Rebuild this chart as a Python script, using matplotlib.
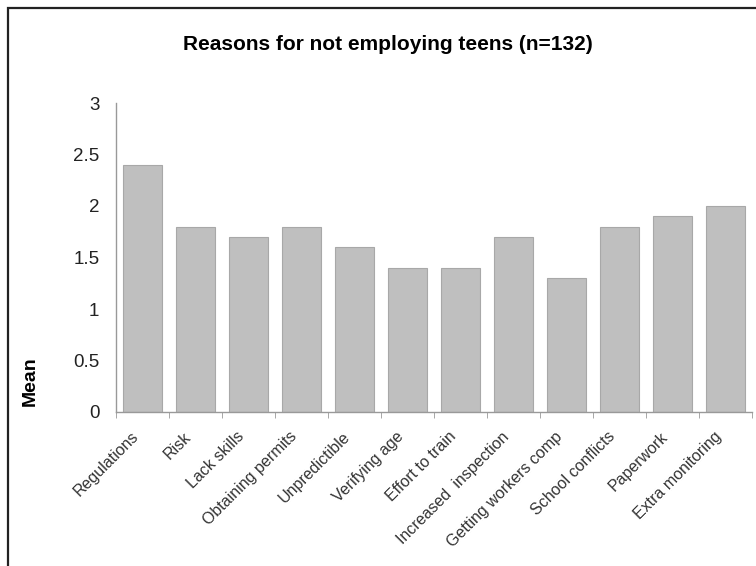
import matplotlib
matplotlib.use("Agg")
from matplotlib import pyplot as plt
from matplotlib.patches import Rectangle
from matplotlib.transforms import ScaledTranslation
import numpy as np

plt.rcParams['font.family'] = ['Liberation Sans', 'DejaVu Sans']

# Chart data
reasons = ['Regulations', 'Risk', 'Lack skills', 'Obtaining permits', 'Unpredictible',
           'Verifying age', 'Effort to train', 'Increased  inspection',
           'Getting workers comp', 'School conflicts', 'Paperwork', 'Extra monitoring']
means = [2.4, 1.8, 1.7, 1.8, 1.6, 1.4, 1.4, 1.7, 1.3, 1.8, 1.9, 2.0]
yticks = [0, 0.5, 1, 1.5, 2, 2.5, 3]
ytick_labels = ['0', '0.5', '1', '1.5', '2', '2.5', '3']

fig = plt.figure(figsize=(7.56, 5.66), dpi=100)
fig.patch.set_facecolor('white')

# outer frame (only left and top edges fall inside the picture)
frame = Rectangle((8 / 756, -0.1), 1.2, 1.1 - 8 / 566, transform=fig.transFigure,
                  fill=False, edgecolor='#222222', linewidth=1.6, clip_on=False)
fig.patches.append(frame)

ax = fig.add_axes([116 / 756, 1 - 412 / 566, 636 / 756, 309 / 566])
x = np.arange(len(reasons))
ax.bar(x, means, width=0.75, color='#bfbfbf', edgecolor='#a8a8a8', linewidth=0.8)

ax.set_xlim(-0.5, len(reasons) - 0.5)
ax.set_ylim(0, 3)
ax.set_yticks(yticks)
ax.set_yticklabels(ytick_labels, fontsize=13.5, color='#222222')

# category labels at bar centres, tick marks between categories
ax.set_xticks(x)
ax.set_xticklabels(reasons, rotation=45, ha='right', rotation_mode='anchor',
                   fontsize=11.5, color='#333333')
ax.set_xticks(np.arange(-0.5, len(reasons)), minor=True)
ax.tick_params(axis='x', which='major', length=0, pad=8)
ax.tick_params(axis='x', which='minor', length=4, color='#999999')
ax.tick_params(axis='y', length=0, pad=12)

# nudge the rotated labels down-left (after tick_params, which resets transforms)
shift = ScaledTranslation(-12 / 100, -6 / 100, fig.dpi_scale_trans)
for lbl in ax.get_xticklabels():
    lbl.set_transform(lbl.get_transform() + shift)

for side in ['top', 'right']:
    ax.spines[side].set_visible(False)
for side in ['left', 'bottom']:
    ax.spines[side].set_color('#999999')
    ax.spines[side].set_linewidth(1.0)

ax.set_ylabel('Mean', fontsize=14, fontweight='bold')
ax.yaxis.set_label_coords(-0.122, 0.10)

fig.text(388 / 756, 1 - 45 / 566, 'Reasons for not employing teens (n=132)',
         ha='center', va='center', fontsize=15, fontweight='bold')

fig.savefig('out.png', dpi=100)
